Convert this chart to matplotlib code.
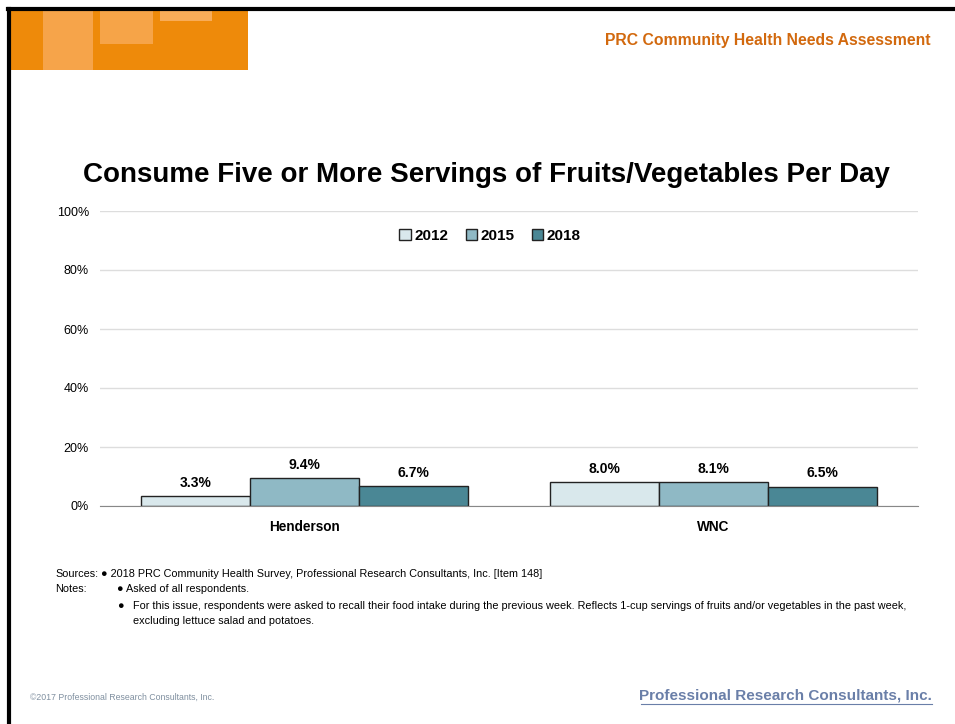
import matplotlib.pyplot as plt
import numpy as np
from matplotlib.patches import Rectangle
from matplotlib.lines import Line2D

# Chart data
areas = ['Henderson', 'WNC']
years = ['2012', '2015', '2018']
values_2012 = [3.3, 8.0]
values_2015 = [9.4, 8.1]
values_2018 = [6.7, 6.5]
yticks = [0, 20, 40, 60, 80, 100]

colors = ['#D9E8EC', '#8FB9C5', '#4A8795']
font = ['Liberation Sans', 'DejaVu Sans']

fig = plt.figure(figsize=(9.55, 7.24), dpi=100)
W, H = 955, 724

def fx(px):
    return px / W

def fy(py):
    return 1 - py / H

# page frame
fig.add_artist(Line2D([fx(9), fx(9)], [fy(9), 0], color='black', lw=3))
fig.add_artist(Line2D([fx(8), 1], [fy(9), fy(9)], color='black', lw=3))

# orange banner
fig.add_artist(Rectangle((fx(10), fy(70)), fx(238), 60 / H, color='#EE8A0A', lw=0))
fig.add_artist(Rectangle((fx(43), fy(70)), fx(50), 60 / H, color='#F6A44A', lw=0))
fig.add_artist(Rectangle((fx(100), fy(44)), fx(53), 34 / H, color='#F6A448', lw=0))
fig.add_artist(Rectangle((fx(160), fy(21)), fx(52), 11 / H, color='#F8AC58', lw=0))

fig.text(fx(931), fy(41), 'PRC Community Health Needs Assessment', ha='right', va='center',
         fontsize=11.3, fontweight='bold', color='#D2690E', family=font)

fig.text(fx(486), fy(175), 'Consume Five or More Servings of Fruits/Vegetables Per Day',
         ha='center', va='center', fontsize=20, fontweight='bold', color='black', family=font)

ax = fig.add_axes([fx(100), fy(506), fx(818), (506 - 211) / H])
x = np.arange(len(areas))
width = 0.2667
series = [values_2012, values_2015, values_2018]
for i, (vals, c, yr) in enumerate(zip(series, colors, years)):
    pos = x + (i - 1) * width
    bars = ax.bar(pos, vals, width, color=c, edgecolor='#222222', linewidth=1, label=yr, zorder=3)
    for b, v in zip(bars, vals):
        ax.text(b.get_x() + b.get_width() / 2, v + 2.2, f'{v:.1f}%', ha='center', va='bottom',
                fontsize=10, fontweight='bold', family=font)

ax.set_xlim(-0.5, 1.5)
ax.set_ylim(0, 100)
ax.set_yticks(yticks)
ax.set_yticklabels([f'{t}%' for t in yticks], fontsize=9, family=font)
ax.set_xticks(x)
ax.set_xticklabels(areas, fontsize=9.8, fontweight='bold', family=font)
ax.tick_params(axis='both', length=0, pad=8)
ax.tick_params(axis='x', pad=10)
ax.grid(axis='y', color='#DDDDDD', lw=1, zorder=0)
for s in ['top', 'right', 'left']:
    ax.spines[s].set_visible(False)
ax.spines['bottom'].set_color('#888888')
ax.spines['bottom'].set_zorder(4)

leg = ax.legend(loc='upper center', bbox_to_anchor=(0.477, 0.985), ncol=3, frameon=False,
                handlelength=0.75, handleheight=0.75, handletextpad=0.25, columnspacing=1.1,
                prop={'family': font, 'weight': 'bold', 'size': 11})
for h in leg.legend_handles:
    h.set_edgecolor('#222222')

# notes
nfs = 7.8
fig.text(fx(55), fy(574), 'Sources:', fontsize=nfs, va='center', family=font)
fig.text(fx(101), fy(574), '\u25CF 2018 PRC Community Health Survey, Professional Research Consultants, Inc. [Item 148]',
         fontsize=nfs, va='center', family=font)
fig.text(fx(55), fy(589), 'Notes:', fontsize=nfs, va='center', family=font)
fig.text(fx(117), fy(589), '\u25CF Asked of all respondents.', fontsize=nfs, va='center', family=font)
fig.text(fx(117), fy(606), '\u25CF', fontsize=nfs, va='center', family=font)
fig.text(fx(133), fy(606), 'For this issue, respondents were asked to recall their food intake during the previous week. '
         'Reflects 1-cup servings of fruits and/or vegetables in the past week,',
         fontsize=nfs, va='center', family=font)
fig.text(fx(133), fy(621), 'excluding lettuce salad and potatoes.', fontsize=nfs, va='center', family=font)

# footer
fig.text(fx(30), fy(697), '\u00A92017 Professional Research Consultants, Inc.', fontsize=6.3,
         va='center', color='#8090A0', family=font)
fig.text(fx(932), fy(696), 'Professional Research Consultants, Inc.', fontsize=11, ha='right',
         va='center', fontweight='bold', color='#6A7FA8', family=font)
fig.add_artist(Line2D([fx(641), fx(932)], [fy(704), fy(704)], color='#6A7FA8', lw=0.8))

plt.savefig('out.png', dpi=100)
